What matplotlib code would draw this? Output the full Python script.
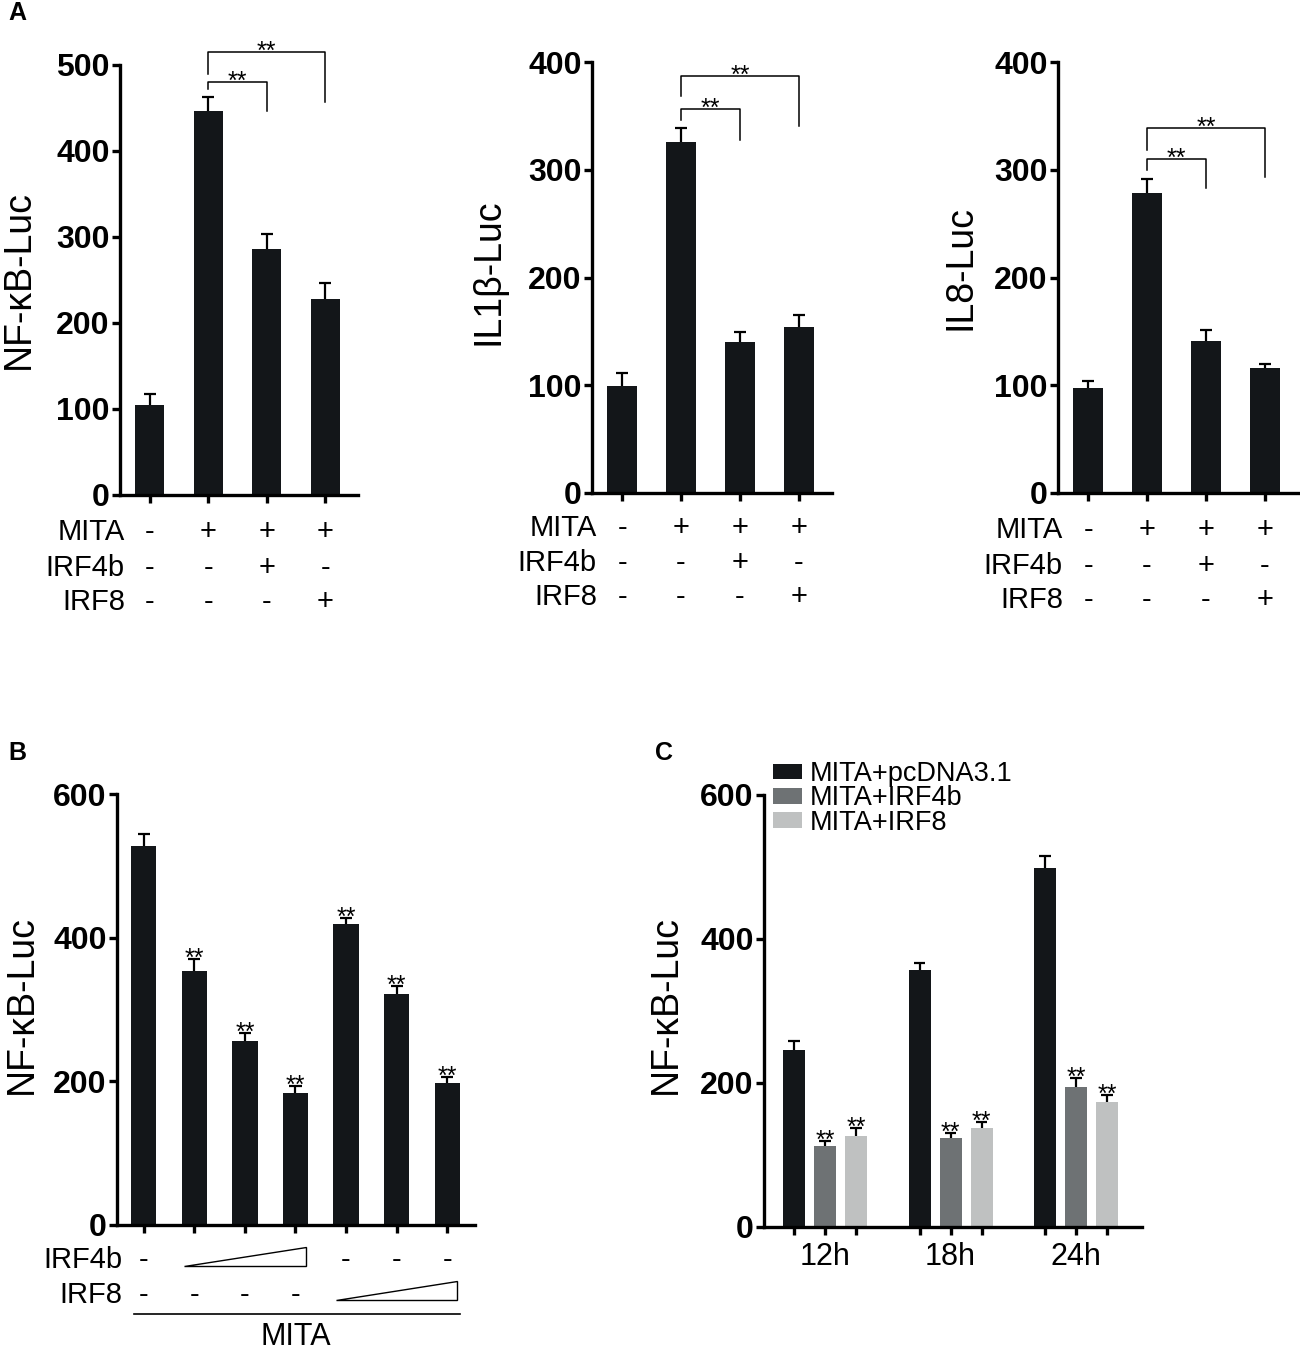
import matplotlib.pyplot as plt
import matplotlib.transforms as mtransforms
from matplotlib.patches import Patch
import numpy as np

plt.rcParams['font.family'] = ['Liberation Sans', 'DejaVu Sans']

W, H = 1300, 1350

# panel A: reporter assays
a_rows = ['MITA', 'IRF4b', 'IRF8']
a_signs = [['-', '+', '+', '+'],
           ['-', '-', '+', '-'],
           ['-', '-', '-', '+']]
nfkb = [105, 447, 286, 228]
nfkb_err = [13, 16, 18, 19]
il1b = [99, 326, 140, 154]
il1b_err = [12, 13, 9, 11]
il8 = [97, 278, 141, 116]
il8_err = [7, 13, 10, 4]

# panel B: dose series
b_vals = [528, 354, 256, 184, 419, 321, 197]
b_err = [16, 16, 11, 10, 9, 12, 9]
b_irf4b = ['-', '', '', '', '-', '-', '-']
b_irf8 = ['-', '-', '-', '-', '', '', '']
b_irf4b_ramp = (1, 3)
b_irf8_ramp = (4, 6)

# panel C: time course
c_times = ['12h', '18h', '24h']
c_groups = ['MITA+pcDNA3.1', 'MITA+IRF4b', 'MITA+IRF8']
c_pcdna = [246, 357, 499]
c_pcdna_err = [12, 9, 16]
c_irf4b = [113, 124, 195]
c_irf4b_err = [6, 7, 12]
c_irf8 = [127, 138, 173]
c_irf8_err = [10, 8, 11]

BLACK = '#131619'
GREY = '#6e7274'
LIGHT = '#bfc1c1'
LW = 2.4

fig = plt.figure(figsize=(W / 100, H / 100), dpi=100)


def fy(py):
    return 1 - py / H


def make_ax(x0, x1, y_top, y_zero, ymax, step, xlim):
    ax = fig.add_axes([x0 / W, fy(y_zero), (x1 - x0) / W, (y_zero - y_top) / H])
    ax.set_xlim(*xlim)
    ax.set_ylim(0, ymax)
    ax.set_yticks(np.arange(0, ymax + 1, step))
    for s in ['top', 'right']:
        ax.spines[s].set_visible(False)
    ax.spines['left'].set_linewidth(LW)
    ax.spines['bottom'].set_linewidth(LW)
    ax.spines['left'].set_bounds(0, ymax)
    ax.tick_params(axis='y', length=6, width=LW, labelsize=23, pad=1.5)
    ax.tick_params(axis='x', length=6, width=LW, labelsize=22, pad=5)
    for t in ax.get_yticklabels():
        t.set_fontweight('bold')
    ax.patch.set_visible(False)
    return ax


def upper_err(ax, x, v, e, hw):
    x = np.asarray(x, dtype=float)
    v = np.asarray(v, dtype=float)
    top = v + np.asarray(e)
    ax.vlines(x, v, top, color='black', lw=1.6, zorder=3)
    ax.hlines(top, x - hw, x + hw, color='black', lw=1.6, zorder=3)
    return top


def stars(ax, x, y):
    ax.annotate('**', (x, y), xytext=(0, -5), textcoords='offset points',
                ha='center', va='baseline', fontsize=18, annotation_clip=False)


def bracket(ax, i, j, y, yl, yr):
    ax.plot([i, i, j, j], [yl, y, y, yr], color='black', lw=1.1, clip_on=False)
    stars(ax, (i + j) / 2, y)


def sign_table(ax, x0, rows_y):
    tr = mtransforms.blended_transform_factory(ax.transData, fig.transFigure)
    for name, py, row in zip(a_rows, rows_y, a_signs):
        fig.text((x0 + 5) / W, fy(py), name, ha='right', va='center', fontsize=21)
        for i, s in enumerate(row):
            ax.text(i, fy(py), s, transform=tr, ha='center', va='center', fontsize=21)


# ---- panel A ----
a_panels = [
    (nfkb, nfkb_err, 'NF-\u03baB-Luc', 120, 358, 65, 495, 500, 19, 280,
     [(1, 2, 480, 472, 446), (1, 3, 515, 490, 457)], [532, 568, 602]),
    (il1b, il1b_err, 'IL1\u03b2-Luc', 592, 832, 62, 493, 400, 489, 272,
     [(1, 2, 356, 346, 328), (1, 3, 387, 368, 341)], [528, 563, 597]),
    (il8, il8_err, 'IL8-Luc', 1058, 1298, 62, 493, 400, 960, 268,
     [(1, 2, 310, 300, 283), (1, 3, 339, 318, 293)], [530, 566, 600]),
]
for vals, errs, lab, x0, x1, yt, y0, ymax, lx, ly, brs, rows in a_panels:
    ax = make_ax(x0, x1, yt, y0, ymax, 100, (-0.51, 3.56))
    xs = np.arange(len(vals))
    ax.bar(xs, vals, width=0.5, color=BLACK)
    upper_err(ax, xs, vals, errs, 0.1)
    ax.set_xticks(xs)
    ax.set_xticklabels([])
    for i, j, y, yl, yr in brs:
        bracket(ax, i, j, y, yl, yr)
    sign_table(ax, x0, rows)
    fig.text(lx / W, fy(ly), lab, rotation=90, ha='center', va='center', fontsize=27)

# ---- panel B ----
ax = make_ax(117, 475, 794, 1225, 600, 200, (-0.53, 6.55))
xs = np.arange(len(b_vals))
ax.bar(xs, b_vals, width=0.5, color=BLACK)
tops = upper_err(ax, xs, b_vals, b_err, 0.12)
for x, t in zip(xs[1:], tops[1:]):
    stars(ax, x, t)
ax.set_xticks(xs)
ax.set_xticklabels([])
tr = mtransforms.blended_transform_factory(ax.transData, fig.transFigure)
for name, py, row, ramp, (tb, tt) in [('IRF4b', 1260, b_irf4b, b_irf4b_ramp, (1266, 1247)),
                                      ('IRF8', 1295, b_irf8, b_irf8_ramp, (1300, 1281))]:
    fig.text(122 / W, fy(py), name, ha='right', va='center', fontsize=21)
    for i, s in enumerate(row):
        if s:
            ax.text(i, fy(py), s, transform=tr, ha='center', va='center', fontsize=21)
    i0, i1 = ramp
    ax.fill([i0 - 0.2, i1 + 0.2, i1 + 0.2], [fy(tb), fy(tb), fy(tt)], transform=tr,
            facecolor='white', edgecolor='black', lw=1.0, clip_on=False)
ax.plot([-0.2, len(b_vals) - 0.75], [fy(1314)] * 2, transform=tr, color='black',
        lw=1.2, clip_on=False)
ax.text(3, fy(1337), 'MITA', transform=tr, ha='center', va='center', fontsize=22)
fig.text(22 / W, fy(1005), 'NF-\u03baB-Luc', rotation=90, ha='center', va='center', fontsize=27)

# ---- panel C ----
ax = make_ax(764, 1142, 795, 1227, 600, 200, (-1.97, 10.23))
centers = np.arange(len(c_times)) * 4.05
series = [(c_pcdna, c_pcdna_err, BLACK, False),
          (c_irf4b, c_irf4b_err, GREY, True),
          (c_irf8, c_irf8_err, LIGHT, True)]
ticks, labels = [], []
for k, (vals, errs, col, sig) in enumerate(series):
    xs = centers + (k - 1)
    ax.bar(xs, vals, width=0.71, color=col)
    tops = upper_err(ax, xs, vals, errs, 0.19)
    if sig:
        for x, t in zip(xs, tops):
            stars(ax, x, t)
for g, c in enumerate(centers):
    for k in range(3):
        ticks.append(c + k - 1)
        labels.append(c_times[g] if k == 1 else '')
ax.set_xticks(ticks)
ax.set_xticklabels(labels)
handles = [Patch(facecolor=s[2]) for s in series]
fig.legend(handles, c_groups, loc='upper left', bbox_to_anchor=(773 / W, fy(761)),
           frameon=False, fontsize=19.5, handlelength=1.07, handleheight=0.52,
           handletextpad=0.3, labelspacing=-0.06, borderpad=0, borderaxespad=0)
fig.text(666 / W, fy(1005), 'NF-\u03baB-Luc', rotation=90, ha='center', va='center', fontsize=27)

# panel letters
for letter, px, py in [('A', 8, 13), ('B', 8, 753), ('C', 655, 753)]:
    fig.text(px / W, fy(py), letter, fontsize=18, fontweight='bold', va='center')

fig.savefig('out.png', dpi=100)
